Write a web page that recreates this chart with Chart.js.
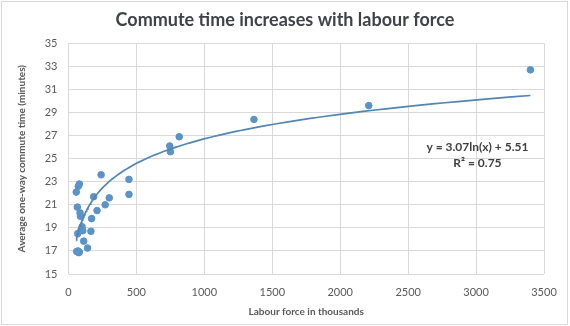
<!DOCTYPE html>
<html>
<head>
<meta charset="utf-8">
<script src="https://cdn.jsdelivr.net/npm/chart.js@4/dist/chart.umd.min.js"></script>
<style>
  html, body { margin: 0; padding: 0; background: #fff; }
  #wrap { width: 570px; height: 326px; position: relative; }
</style>
</head>
<body>
<div id="wrap"><canvas id="c" width="570" height="326"></canvas></div>
<script>
// ---- Data ----
const labourForce = [3400, 2210, 1365, 815, 745, 750, 240, 445, 445, 80, 72, 57, 185, 300, 65, 270, 210, 85, 88, 170, 100, 92, 68, 105, 165, 112, 140, 70, 60, 80, 75];
const commuteTime = [32.7, 29.6, 28.4, 26.9, 26.1, 25.6, 23.6, 23.2, 21.9, 22.8, 22.6, 22.1, 21.7, 21.6, 20.8, 21.0, 20.5, 20.3, 20.0, 19.8, 19.1, 18.8, 18.5, 18.75, 18.7, 17.85, 17.25, 17.0, 16.95, 16.9, 16.85];
// Logarithmic trendline as shown on the chart: y = a ln(x) + b
const trendA = 3.07;
const trendB = 5.51;
const trendLabel = ["y = 3.07ln(x) + 5.51", "R\u00B2 = 0.75"];
const chartTitle = 'Commute time increases with labour force';
const xTicks = [0, 500, 1000, 1500, 2000, 2500, 3000, 3500];
const yTicks = [15, 17, 19, 21, 23, 25, 27, 29, 31, 33, 35];

const points = labourForce.map((x, i) => ({ x: x, y: commuteTime[i] }));
const xMin = Math.min(...labourForce), xMax = Math.max(...labourForce);
const trend = [];
for (let i = 0; i <= 120; i++) {
  const x = Math.exp(Math.log(xMin) + (Math.log(xMax) - Math.log(xMin)) * i / 120);
  trend.push({ x: x, y: trendA * Math.log(x) + trendB });
}

const FONT = "Lato, 'Open Sans', sans-serif";

const decor = {
  id: 'decor',
  beforeDraw(chart) {
    const ctx = chart.ctx;
    ctx.save();
    ctx.fillStyle = '#ffffff';
    ctx.fillRect(0, 0, chart.width, chart.height);
    ctx.restore();
  },
  afterDraw(chart) {
    const ctx = chart.ctx;
    ctx.save();
    ctx.strokeStyle = '#d9d9d9';
    ctx.lineWidth = 1;
    ctx.strokeRect(1.5, 1.5, chart.width - 4, chart.height - 3);
    // chart title, centred on the whole chart
    ctx.fillStyle = '#3f4349';
    ctx.font = "bold 18px " + FONT;
    ctx.textAlign = 'center';
    ctx.textBaseline = 'middle';
    ctx.fillText(chartTitle, chart.width / 2, 20);
    // trendline equation
    const xs = chart.scales.x, ys = chart.scales.y;
    const cx = xs.getPixelForValue(3010);
    ctx.fillStyle = '#404040';
    ctx.font = "bold 12px " + FONT;
    ctx.fillText(trendLabel[0], cx, ys.getPixelForValue(26.0));
    ctx.fillText(trendLabel[1], cx, ys.getPixelForValue(24.62));
    ctx.restore();
  }
};

new Chart(document.getElementById('c'), {
  type: 'scatter',
  data: {
    datasets: [
      {
        label: 'Commute time',
        data: points,
        backgroundColor: '#5b93c9',
        borderColor: '#5b93c9',
        pointRadius: 3.3,
        pointHoverRadius: 3.3,
        order: 2
      },
      {
        label: 'Trend',
        type: 'line',
        data: trend,
        borderColor: '#5085b4',
        borderWidth: 1.7,
        pointRadius: 0,
        fill: false,
        tension: 0,
        order: 1
      }
    ]
  },
  plugins: [decor],
  options: {
    responsive: false,
    animation: false,
    layout: { padding: { left: 0, right: 26, top: 43.3, bottom: 0 } },
    plugins: {
      legend: { display: false },
      tooltip: { enabled: false },
      title: { display: false }
    },
    scales: {
      x: {
        type: 'linear',
        min: 0, max: 3500,
        afterBuildTicks(s) { s.ticks = xTicks.map(v => ({ value: v })); },
        afterFit(s) { s.height = 52; },
        grid: { color: '#d9d9d9', drawTicks: false, lineWidth: 1 },
        border: { display: false },
        ticks: { color: '#595959', font: { family: FONT, size: 11 }, padding: 12, maxRotation: 0, callback: v => String(v) },
        title: {
          display: true,
          text: 'Labour force in thousands',
          color: '#595959',
          font: { family: FONT, size: 10, weight: 'bold' },
          padding: { top: 0, bottom: 8.5 }
        }
      },
      y: {
        type: 'linear',
        min: 15, max: 35,
        afterBuildTicks(s) { s.ticks = yTicks.map(v => ({ value: v })); },
        afterFit(s) { s.width = 68.5; },
        grid: { color: '#d9d9d9', drawTicks: false, lineWidth: 1 },
        border: { display: false },
        ticks: { color: '#595959', font: { family: FONT, size: 11 }, padding: 11, callback: v => String(v) },
        title: {
          display: true,
          text: 'Average one-way commute time (minutes)',
          color: '#595959',
          font: { family: FONT, size: 10, weight: 'bold' },
          padding: { top: 15.5, bottom: 0 }
        }
      }
    }
  }
});
</script>
</body>
</html>
